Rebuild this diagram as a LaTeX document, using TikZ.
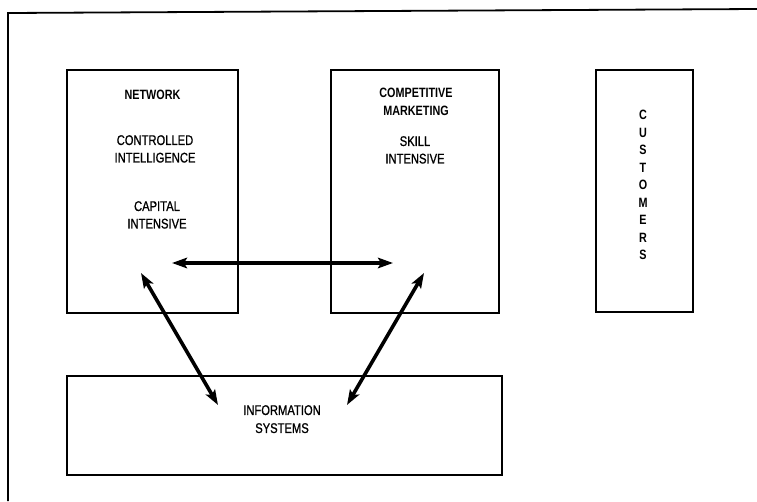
\documentclass[tikz,border=0pt]{standalone}
\usepackage{fontspec}
\setmainfont{Liberation Sans}[FakeStretch=0.8]
\newfontfamily\heavyfont{Liberation Sans}[FakeStretch=0.8, FakeBold=0.9]
\usetikzlibrary{arrows.meta}
\tikzset{
  box/.style={draw=black, line width=1.6pt, rectangle, inner sep=0pt},
  lbl/.style={inner sep=0pt, align=center, anchor=north,
    font=\fontsize{14}{17.5}\selectfont\heavyfont},
  ttl/.style={lbl, font=\fontsize{13.5}{17.5}\selectfont\bfseries},
  link/.style={line width=3.6pt, {Stealth[length=15pt,width=10.5pt,inset=3pt]}-{Stealth[length=15pt,width=10.5pt,inset=3pt]}},
  frame/.style={line width=1.8pt}
}
\begin{document}
\begin{tikzpicture}[x=1pt, y=-1pt]
\useasboundingbox (0,0) rectangle (757,501);

% page frame: left and top rules
\coordinate (f1) at (8,501);
\coordinate (f2) at (8,13);
\coordinate (f3) at (757,9);
\draw[frame] (f1) -- (f2) -- (f3);

% arrow end points inside the boxes
\coordinate (hL) at (172,263);
\coordinate (hR) at (393,263);
\coordinate (nA) at (141,273);
\coordinate (iA) at (218,405);
\coordinate (cA) at (424,273);
\coordinate (iB) at (347,405);

\draw[link] (hL) -- (hR);
\draw[link] (nA) -- (iA);
\draw[link] (cA) -- (iB);

% boxes
\node[box, minimum width=171pt, minimum height=243pt] (net) at (152.5,191.5) {};
\node[box, minimum width=168pt, minimum height=243pt] (mkt) at (415,191.5) {};
\node[box, minimum width=97pt, minimum height=242pt] (cus) at (644.5,191) {};
\node[box, minimum width=435pt, minimum height=99pt] (info) at (284.5,425.5) {};

% box texts
\node[ttl] (netT) at (152.5,90) {NETWORK};
\node[lbl] (netA) at (155,135) {CONTROLLED\\INTELLIGENCE};
\node[lbl] (netB) at (157,201) {CAPITAL\\INTENSIVE};
\node[ttl] (mktT) at (416,88) {COMPETITIVE\\MARKETING};
\node[lbl] (mktA) at (415,136) {SKILL\\INTENSIVE};
\node[ttl] (cusT) at (643,110) {C\\U\\S\\T\\O\\M\\E\\R\\S};
\node[lbl, font=\fontsize{14}{18}\selectfont\heavyfont] (infoT) at (282,405) {INFORMATION\\SYSTEMS};
\end{tikzpicture}
\end{document}
